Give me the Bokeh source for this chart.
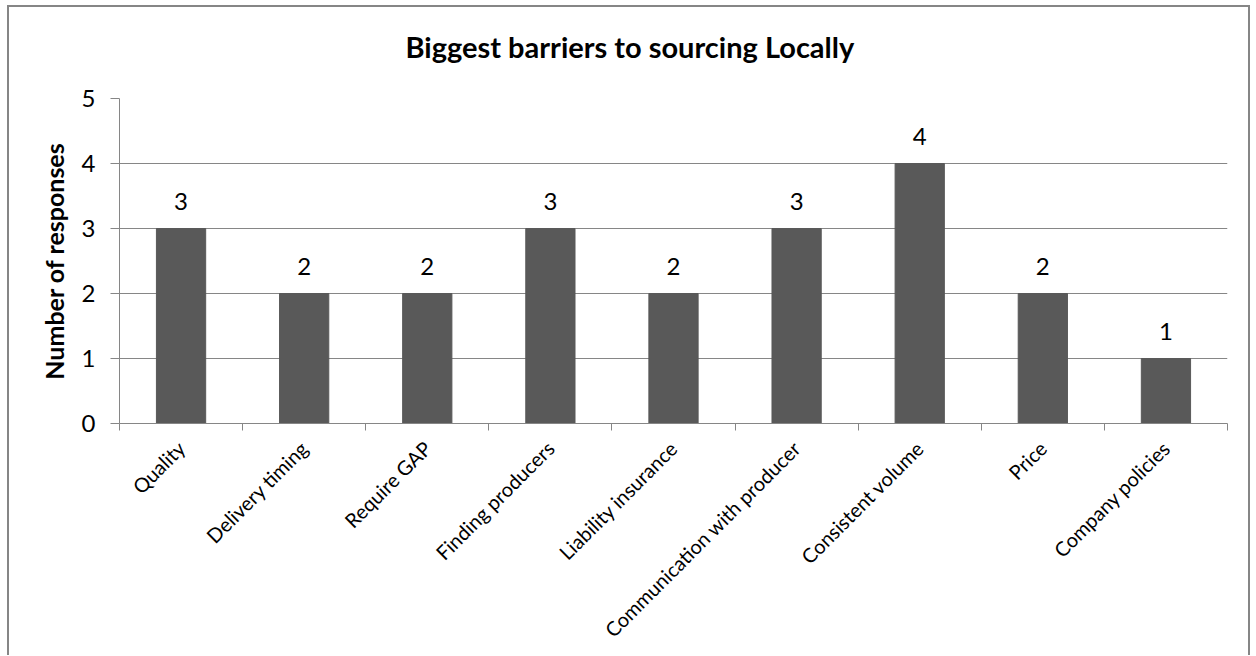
import numpy as np
from bokeh.plotting import figure
from bokeh.models import Range1d, FixedTicker, ColumnDataSource, Title
from bokeh.core.properties import value
from bokeh.embed import file_html
from bokeh.resources import INLINE

title_text = "Biggest barriers to sourcing Locally"
categories = ["Quality", "Delivery timing", "Require GAP", "Finding producers",
              "Liability insurance", "Communication with producer",
              "Consistent volume", "Price", "Company policies"]
responses = [3, 2, 2, 3, 2, 3, 4, 2, 1]
y_ticks = [0, 1, 2, 3, 4, 5]

FONT = "Lato"
GRAY = "#868686"

n = len(categories)
xs = np.arange(n) + 0.5
src = ColumnDataSource(dict(x=xs, top=responses, label=[str(v) for v in responses]))

p = figure(width=1243, height=650, output_backend="svg", toolbar_location=None,
           x_range=Range1d(0, n), y_range=Range1d(0, 5),
           min_border_left=110, min_border_right=25, min_border_top=91,
           min_border_bottom=234, title=None)
p.styles = {"border-left": f"2px solid {GRAY}", "border-top": f"2px solid {GRAY}",
            "border-right": f"2px solid {GRAY}"}
p.margin = (5, 0, 0, 7)
p.outline_line_color = None
p.background_fill_color = "white"
p.border_fill_color = "white"

# spacer between frame and title, then the title itself
p.add_layout(Title(text=" ", text_font_size="1px", standoff=27), "above")
p.add_layout(Title(text=title_text, align="left", offset=286, text_font=FONT,
                   text_font_size="29px", text_font_style="bold",
                   text_color="black", standoff=10), "above")

p.vbar(x="x", top="top", bottom=0, width=0.4, source=src,
       fill_color="#595959", line_color="#595959")
p.text(x="x", y="top", text="label", source=src, text_align="center",
       text_baseline="alphabetic", y_offset=-27, text_font=value(FONT),
       text_font_size="24px", text_color="black")

# x axis
xa = p.xaxis[0]
xa.ticker = FixedTicker(ticks=list(xs), minor_ticks=list(range(n + 1)))
xa.major_label_overrides = {float(x): c for x, c in zip(xs, categories)}
xa.major_tick_line_color = None
xa.minor_tick_line_color = GRAY
xa.minor_tick_out = 7
xa.minor_tick_in = 0
xa.axis_line_color = GRAY
xa.major_label_orientation = np.pi / 4
xa.major_label_text_font = FONT
xa.major_label_text_font_size = "20px"
xa.major_label_text_color = "black"
xa.major_label_standoff = 14

# y axis
ya = p.yaxis[0]
ya.ticker = FixedTicker(ticks=y_ticks)
ya.minor_tick_line_color = None
ya.major_tick_line_color = GRAY
ya.major_tick_out = 9
ya.major_tick_in = 0
ya.axis_line_color = GRAY
ya.major_label_text_font = FONT
ya.major_label_text_font_size = "24px"
ya.major_label_text_color = "black"
ya.major_label_standoff = 15
ya.axis_label = "Number of responses"
ya.axis_label_text_font = FONT
ya.axis_label_text_font_size = "25px"
ya.axis_label_text_font_style = "bold"
ya.axis_label_text_color = "black"
ya.axis_label_standoff = 10

p.xgrid.grid_line_color = None
p.ygrid.grid_line_color = GRAY
p.ygrid.ticker = FixedTicker(ticks=y_ticks)

open("out.html", "w").write(file_html(p, INLINE))
